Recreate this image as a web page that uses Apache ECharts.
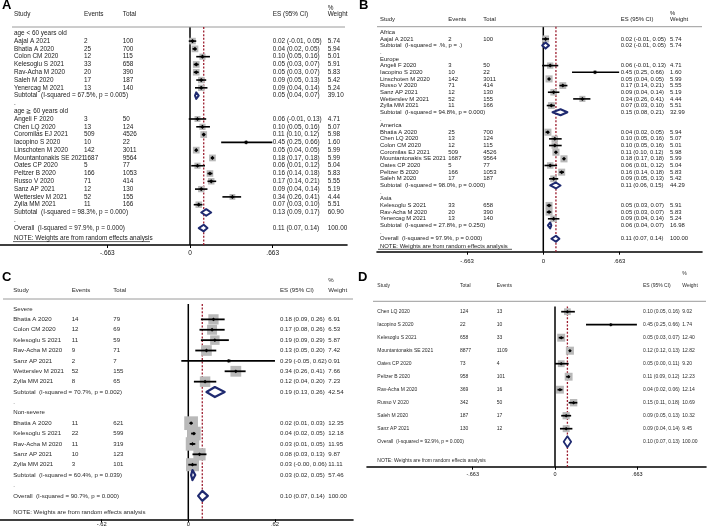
<!DOCTYPE html>
<html><head><meta charset="utf-8">
<script src="https://cdn.jsdelivr.net/npm/echarts@6/dist/echarts.min.js"></script>
<style>html,body{margin:0;padding:0;background:#fff}#c{width:708px;height:530px}</style>
</head><body><div id="c"></div>
<script>
// ================= DATA =================
// kinds: g = group label, s = study, t = subtotal, d = "." spacer, o = overall
// ---- Panel A ----
const aHeader = ['Study', 'Events', 'Total', 'ES (95% CI)', '%', 'Weight'];
const aStudy = ['age < 60 years old', 'Aajal A 2021', 'Bhatia A 2020', 'Colon CM 2020', 'Kelesoglu S 2021', 'Rav-Acha M 2020', 'Saleh M 2020', 'Yenercag M 2021',
  'Subtotal  (I-squared = 67.5%, p = 0.005)', '.', 'age ≧ 60 years old',
  'Angeli F 2020', 'Chen LQ 2020', 'Coromilas EJ 2021', 'Iacopino S 2020', 'Linschoten M 2020', 'Mountantonakis SE 2021', 'Oates CP 2020', 'Peltzer B 2020', 'Russo V 2020', 'Sanz AP 2021', 'Wetterslev M 2021', 'Zylla MM 2021',
  'Subtotal  (I-squared = 98.3%, p = 0.000)', '.', 'Overall  (I-squared = 97.9%, p = 0.000)'];
const aKind = ['g','s','s','s','s','s','s','s','t','d','g','s','s','s','s','s','s','s','s','s','s','s','s','t','d','o'];
const aEvents = ['', '2', '25', '12', '33', '20', '17', '13', '', '', '', '3', '13', '509', '10', '142', '1687', '5', '166', '71', '12', '52', '11', '', '', ''];
const aTotal = ['', '100', '700', '115', '658', '390', '187', '140', '', '', '', '50', '124', '4526', '22', '3011', '9564', '77', '1053', '414', '130', '155', '166', '', '', ''];
const aES = [null, 0.02, 0.04, 0.10, 0.05, 0.05, 0.09, 0.09, 0.05, null, null, 0.06, 0.10, 0.11, 0.45, 0.05, 0.18, 0.06, 0.16, 0.17, 0.09, 0.34, 0.07, 0.13, null, 0.11];
const aLo = [null, -0.01, 0.02, 0.05, 0.03, 0.03, 0.05, 0.04, 0.04, null, null, -0.01, 0.05, 0.10, 0.25, 0.04, 0.17, 0.01, 0.14, 0.14, 0.04, 0.26, 0.03, 0.09, null, 0.07];
const aHi = [null, 0.05, 0.05, 0.16, 0.07, 0.07, 0.13, 0.14, 0.07, null, null, 0.13, 0.16, 0.12, 0.66, 0.05, 0.18, 0.12, 0.18, 0.21, 0.14, 0.41, 0.10, 0.17, null, 0.14];
const aWeight = [null, 5.74, 5.94, 5.01, 5.91, 5.83, 5.42, 5.24, 39.10, null, null, 4.71, 5.07, 5.98, 1.60, 5.99, 5.99, 5.04, 5.83, 5.55, 5.19, 4.44, 5.51, 60.90, null, 100.00];
const aTicks = [-0.663, 0, 0.663];

// ---- Panel B ----
const bHeader = ['Study', 'Events', 'Total', 'ES (95% CI)', '%', 'Weight'];
const bStudy = ['Africa', 'Aajal A 2021', 'Subtotal  (I-squared = .%, p = .)', '.',
  'Europe', 'Angeli F 2020', 'Iacopino S 2020', 'Linschoten M 2020', 'Russo V 2020', 'Sanz AP 2021', 'Wetterslev M 2021', 'Zylla MM 2021', 'Subtotal  (I-squared = 94.8%, p = 0.000)', '.',
  'America', 'Bhatia A 2020', 'Chen LQ 2020', 'Colon CM 2020', 'Coromilas EJ 2021', 'Mountantonakis SE 2021', 'Oates CP 2020', 'Peltzer B 2020', 'Saleh M 2020', 'Subtotal  (I-squared = 98.0%, p = 0.000)', '.',
  'Asia', 'Kelesoglu S 2021', 'Rav-Acha M 2020', 'Yenercag M 2021', 'Subtotal  (I-squared = 27.8%, p = 0.250)', '.',
  'Overall  (I-squared = 97.9%, p = 0.000)'];
const bKind = ['g','s','t','d','g','s','s','s','s','s','s','s','t','d','g','s','s','s','s','s','s','s','s','t','d','g','s','s','s','t','d','o'];
const bEvents = ['', '2', '', '', '', '3', '10', '142', '71', '12', '52', '11', '', '', '', '25', '13', '12', '509', '1687', '5', '166', '17', '', '', '', '33', '20', '13', '', '', ''];
const bTotal = ['', '100', '', '', '', '50', '22', '3011', '414', '130', '155', '166', '', '', '', '700', '124', '115', '4526', '9564', '77', '1053', '187', '', '', '', '658', '390', '140', '', '', ''];
const bES = [null, 0.02, 0.02, null, null, 0.06, 0.45, 0.05, 0.17, 0.09, 0.34, 0.07, 0.15, null, null, 0.04, 0.10, 0.10, 0.11, 0.18, 0.06, 0.16, 0.09, 0.11, null, null, 0.05, 0.05, 0.09, 0.06, null, 0.11];
const bLo = [null, -0.01, -0.01, null, null, -0.01, 0.25, 0.04, 0.14, 0.04, 0.26, 0.03, 0.08, null, null, 0.02, 0.05, 0.05, 0.10, 0.17, 0.01, 0.14, 0.05, 0.06, null, null, 0.03, 0.03, 0.04, 0.04, null, 0.07];
const bHi = [null, 0.05, 0.05, null, null, 0.13, 0.66, 0.05, 0.21, 0.14, 0.41, 0.10, 0.21, null, null, 0.05, 0.16, 0.16, 0.12, 0.18, 0.12, 0.18, 0.13, 0.15, null, null, 0.07, 0.07, 0.14, 0.07, null, 0.14];
const bWeight = [null, 5.74, 5.74, null, null, 4.71, 1.60, 5.99, 5.55, 5.19, 4.44, 5.51, 32.99, null, null, 5.94, 5.07, 5.01, 5.98, 5.99, 5.04, 5.83, 5.42, 44.29, null, null, 5.91, 5.83, 5.24, 16.98, null, 100.00];
const bTicks = [-0.663, 0, 0.663];

// ---- Panel C ----
const cHeader = ['Study', 'Events', 'Total', 'ES (95% CI)', '%', 'Weight'];
const cStudy = ['Severe', 'Bhatia A 2020', 'Colon CM 2020', 'Kelesoglu S 2021', 'Rav-Acha M 2020', 'Sanz AP 2021', 'Wetterslev M 2021', 'Zylla MM 2021', 'Subtotal  (I-squared = 70.7%, p = 0.002)', '.',
  'Non-severe', 'Bhatia A 2020', 'Kelesoglu S 2021', 'Rav-Acha M 2020', 'Sanz AP 2021', 'Zylla MM 2021', 'Subtotal  (I-squared = 60.4%, p = 0.039)', '.',
  'Overall  (I-squared = 90.7%, p = 0.000)'];
const cKind = ['g','s','s','s','s','s','s','s','t','d','g','s','s','s','s','s','t','d','o'];
const cEvents = ['', '14', '12', '11', '9', '2', '52', '8', '', '', '', '11', '22', '11', '10', '3', '', '', ''];
const cTotal = ['', '79', '69', '59', '71', '7', '155', '65', '', '', '', '621', '599', '319', '123', '101', '', '', ''];
const cES = [null, 0.18, 0.17, 0.19, 0.13, 0.29, 0.34, 0.12, 0.19, null, null, 0.02, 0.04, 0.03, 0.08, 0.03, 0.03, null, 0.10];
const cLo = [null, 0.09, 0.08, 0.09, 0.05, -0.05, 0.26, 0.04, 0.13, null, null, 0.01, 0.02, 0.01, 0.03, -0, 0.02, null, 0.07];
const cHi = [null, 0.26, 0.26, 0.29, 0.20, 0.62, 0.41, 0.20, 0.26, null, null, 0.03, 0.05, 0.05, 0.13, 0.06, 0.05, null, 0.14];
const cWeight = [null, 6.91, 6.53, 5.87, 7.42, 0.91, 7.66, 7.23, 42.54, null, null, 12.35, 12.18, 11.95, 9.87, 11.11, 57.46, null, 100.00];
const cTicks = [-0.62, 0, 0.62];

// ---- Panel D ----
const dHeader = ['Study', 'Total', 'Events', 'ES (95% CI)', '%', 'Weight'];
const dStudy = ['Chen LQ 2020', 'Iacopino S 2020', 'Kelesoglu S 2021', 'Mountantonakis SE 2021', 'Oates CP 2020', 'Peltzer B 2020', 'Rav-Acha M 2020', 'Russo V 2020', 'Saleh M 2020', 'Sanz AP 2021',
  'Overall  (I-squared = 92.9%, p = 0.000)'];
const dKind = ['s','s','s','s','s','s','s','s','s','s','o'];
const dTotal = ['124', '22', '658', '8877', '73', '958', '369', '342', '187', '130', ''];
const dEvents = ['13', '10', '33', '1109', '4', '101', '16', '50', '17', '12', ''];
const dES = [0.10, 0.45, 0.05, 0.12, 0.05, 0.11, 0.04, 0.15, 0.09, 0.09, 0.10];
const dLo = [0.05, 0.25, 0.03, 0.12, 0.00, 0.09, 0.02, 0.11, 0.05, 0.04, 0.07];
const dHi = [0.16, 0.66, 0.07, 0.13, 0.11, 0.12, 0.06, 0.18, 0.13, 0.14, 0.13];
const dWeight = [9.02, 1.74, 12.40, 12.82, 9.20, 12.23, 12.14, 10.69, 10.32, 9.45, 100.00];
const dTicks = [-0.663, 0, 0.663];

const noteText = 'NOTE: Weights are from random effects analysis';

// ================= LAYOUT / STYLE =================
const FONT = '"Liberation Sans", Arial, Helvetica, sans-serif';
const PANELS = [
  { letter: 'A', header: aHeader, study: aStudy, kind: aKind, c2: aEvents, c3: aTotal, es: aES, lo: aLo, hi: aHi, w: aWeight, ticks: aTicks,
    L: { left: 0, right: 347, top: 0, axisY: 245, row0: 33.3, step: 7.79, zero: 190, ppu: 124.7,
      cols: [14, 84, 122.7, 272.7, 327.7], headY: 13.8, pctY: 8, hLine: [12, 345, 27], vTop: 27, noteY: 238.3, underline: [13, 150, 241.6],
      font: 6.4, color: '#1a1a1a', boxK: 2.75, marker: 2.1, ciW: 1.6, diaH: 3.3, diaW: 2, zeroW: 1.5,
      tickFont: 6.5, tickMargin: 4.5, letterXY: [2, 5] } },
  { letter: 'B', header: bHeader, study: bStudy, kind: bKind, c2: bEvents, c3: bTotal, es: bES, lo: bLo, hi: bHi, w: bWeight, ticks: bTicks,
    L: { left: 377, right: 702, top: 0, axisY: 251.7, row0: 32.3, step: 6.66, zero: 543.3, ppu: 114.9,
      cols: [380, 448.3, 483.3, 620.7, 670], headY: 19.5, pctY: 13, hLine: [377, 702, 26.7], vTop: 26.7, noteY: 246.3, underline: [378, 512, 249.3],
      font: 5.9, color: '#1a1a1a', boxK: 2.9, marker: 2, ciW: 1.6, diaH: 3, diaW: 2, zeroW: 1.5,
      tickFont: 6, tickMargin: 6.5, letterXY: [359, 5] } },
  { letter: 'C', header: cHeader, study: cStudy, kind: cKind, c2: cEvents, c3: cTotal, es: cES, lo: cLo, hi: cHi, w: cWeight, ticks: cTicks,
    L: { left: 0, right: 353, top: 265, axisY: 519.3, row0: 309, step: 10.38, zero: 188.3, ppu: 139.8,
      cols: [13.3, 71.7, 113.3, 280, 328.3], headY: 290, pctY: 280, hLine: [3, 353, 299], vTop: 304, noteY: 512.3, underline: null,
      font: 6.1, color: '#2a2a2a', boxK: 3.9, marker: 1.9, ciW: 1.8, diaH: 5, diaW: 2.2, zeroW: 1.5,
      tickFont: 5.8, tickMargin: 2.5, letterXY: [2, 277] } },
  { letter: 'D', header: dHeader, study: dStudy, kind: dKind, c2: dTotal, c3: dEvents, es: dES, lo: dLo, hi: dHi, w: dWeight, ticks: dTicks,
    L: { left: 367, right: 706, top: 265, axisY: 466.7, row0: 311.7, step: 13.0, zero: 555, ppu: 124.1,
      cols: [377.3, 460, 496.7, 643, 682.3], headY: 286, pctY: 273.5, hLine: [373, 706, 301.3], vTop: 306.5, noteY: 460.7, underline: null,
      font: 5, color: '#2a2a2a', boxK: 2.25, marker: 1.8, ciW: 1.7, diaH: 5.5, diaW: 1.8, zeroW: 1.5,
      tickFont: 5.5, tickMargin: 4.5, letterXY: [358, 277] } }
];
const BOX = '#b9b9b9';
const NAVY = '#1f2a70';
const DASH = '#9c1c2e';

function fmt(v) { return Object.is(v, -0) ? '-0.00' : v.toFixed(2); }
function tickFmt(v) {
  if (Math.abs(v) < 1e-9) return '0';
  const s = Math.abs(v).toString().replace(/^0/, '');
  return (v < 0 ? '-' : '') + s;
}

const grid = [], xAxis = [], yAxis = [], series = [], graphic = [];

PANELS.forEach((P, i) => {
  const L = P.L;
  const rowOf = px => (px - L.row0) / L.step;
  const effX = 2 * i, txtX = 2 * i + 1;
  grid.push({ left: L.left, top: L.top, width: L.right - L.left, height: L.axisY - L.top, containLabel: false });
  xAxis.push({
    gridIndex: i, type: 'value', position: 'bottom',
    min: (L.left - L.zero) / L.ppu, max: (L.right - L.zero) / L.ppu,
    axisLine: { show: true, onZero: false, lineStyle: { color: '#000', width: 1.6 } },
    axisTick: { show: true, customValues: P.ticks, length: 3, inside: false, lineStyle: { color: '#000', width: 1 } },
    axisLabel: { show: true, customValues: P.ticks, formatter: tickFmt, fontSize: L.tickFont, fontFamily: FONT, color: '#111', margin: L.tickMargin },
    splitLine: { show: false }
  });
  xAxis.push({ gridIndex: i, type: 'value', position: 'top', min: L.left, max: L.right, show: false, splitLine: { show: false } });
  yAxis.push({ gridIndex: i, type: 'value', inverse: true, min: rowOf(L.top), max: rowOf(L.axisY), show: false, splitLine: { show: false } });

  const overallIdx = P.kind.indexOf('o');
  const overallES = P.es[overallIdx];
  const rTop = rowOf(L.vTop), rBot = rowOf(L.axisY);

  // null line at 0
  series.push({ type: 'line', xAxisIndex: effX, yAxisIndex: i, data: [[0, rTop], [0, rBot]], symbol: 'none', silent: true, z: 1,
    lineStyle: { color: '#000', width: L.zeroW }, animation: false });
  // overall dashed line
  series.push({ type: 'line', xAxisIndex: effX, yAxisIndex: i, data: [[overallES, rTop], [overallES, rBot]], symbol: 'none', silent: true, z: 2,
    lineStyle: { color: DASH, width: 1.3, type: [2, 1.6] }, animation: false });
  // header rule
  series.push({ type: 'line', xAxisIndex: txtX, yAxisIndex: i, data: [[L.hLine[0], rowOf(L.hLine[2])], [L.hLine[1], rowOf(L.hLine[2])]], symbol: 'none', silent: true, z: 1,
    lineStyle: { color: '#9a9a9a', width: 1 }, animation: false });
  if (L.underline) {
    series.push({ type: 'line', xAxisIndex: txtX, yAxisIndex: i, data: [[L.underline[0], rowOf(L.underline[2])], [L.underline[1], rowOf(L.underline[2])]], symbol: 'none', silent: true, z: 1,
      lineStyle: { color: '#333', width: 0.8 }, animation: false });
  }

  // study rows: box + CI + marker
  const studyData = [];
  const diaData = [];
  P.kind.forEach((k, r) => {
    if (k === 's') studyData.push([P.es[r], P.lo[r], P.hi[r], r, P.w[r]]);
    if (k === 't' || k === 'o') diaData.push([P.es[r], P.lo[r], P.hi[r], r]);
  });
  series.push({
    type: 'custom', xAxisIndex: effX, yAxisIndex: i, z: 3, silent: true, animation: false,
    data: studyData,
    renderItem: (params, api) => {
      const c = api.coord([api.value(0), api.value(3)]);
      const l = api.coord([api.value(1), api.value(3)]);
      const h = api.coord([api.value(2), api.value(3)]);
      const side = L.boxK * Math.sqrt(api.value(4));
      const m = L.marker;
      return { type: 'group', children: [
        { type: 'rect', shape: { x: c[0] - side / 2, y: c[1] - side / 2, width: side, height: side }, style: { fill: BOX } },
        { type: 'line', shape: { x1: l[0], y1: c[1], x2: h[0], y2: c[1] }, style: { stroke: '#000', lineWidth: L.ciW } },
        { type: 'polygon', shape: { points: [[c[0] - m, c[1]], [c[0], c[1] - m], [c[0] + m, c[1]], [c[0], c[1] + m]] }, style: { fill: '#000' } }
      ] };
    }
  });
  // pooled diamonds
  series.push({
    type: 'custom', xAxisIndex: effX, yAxisIndex: i, z: 4, silent: true, animation: false,
    data: diaData,
    renderItem: (params, api) => {
      const c = api.coord([api.value(0), api.value(3)]);
      const l = api.coord([api.value(1), api.value(3)]);
      const h = api.coord([api.value(2), api.value(3)]);
      const hh = L.diaH;
      return { type: 'polygon', shape: { points: [[l[0], c[1]], [c[0], c[1] - hh], [h[0], c[1]], [c[0], c[1] + hh]] },
        style: { fill: '#fff', stroke: NAVY, lineWidth: L.diaW, lineJoin: 'round' } };
    }
  });

  // text cells
  const cells = [];
  const hr = rowOf(L.headY);
  for (let k = 0; k < 4; k++) cells.push({ x: L.cols[k], row: hr, text: P.header[k] });
  cells.push({ x: L.cols[4], row: rowOf(L.pctY), text: P.header[4] });
  cells.push({ x: L.cols[4], row: hr, text: P.header[5] });
  P.study.forEach((s, r) => {
    cells.push({ x: L.cols[0], row: r, text: s });
    if (P.c2[r]) cells.push({ x: L.cols[1], row: r, text: P.c2[r] });
    if (P.c3[r]) cells.push({ x: L.cols[2], row: r, text: P.c3[r] });
    if (P.es[r] !== null) {
      cells.push({ x: L.cols[3], row: r, text: fmt(P.es[r]) + ' (' + fmt(P.lo[r]) + ', ' + fmt(P.hi[r]) + ')' });
      cells.push({ x: L.cols[4], row: r, text: fmt(P.w[r]) });
    }
  });
  cells.push({ x: L.cols[0], row: rowOf(L.noteY), text: noteText });
  series.push({
    type: 'custom', xAxisIndex: txtX, yAxisIndex: i, z: 5, silent: true, animation: false,
    data: cells.map(c => [c.x, c.row]),
    renderItem: (params, api) => {
      const cell = cells[params.dataIndex];
      const p = api.coord([api.value(0), api.value(1)]);
      return { type: 'text', x: p[0], y: p[1], style: {
        text: cell.text, fill: L.color, fontSize: L.font, fontFamily: FONT,
        font: L.font + 'px ' + FONT,
        align: 'left', verticalAlign: 'middle', textAlign: 'left', textVerticalAlign: 'middle' } };
    }
  });

  graphic.push({ type: 'text', left: L.letterXY[0], top: L.letterXY[1] - 6, style: { text: P.letter, fill: '#000', font: 'bold 13px ' + FONT } });
});

const chart = echarts.init(document.getElementById('c'), null, { renderer: 'canvas' });
chart.setOption({ animation: false, backgroundColor: '#fff', grid, xAxis, yAxis, series, graphic });
</script>
</body></html>
